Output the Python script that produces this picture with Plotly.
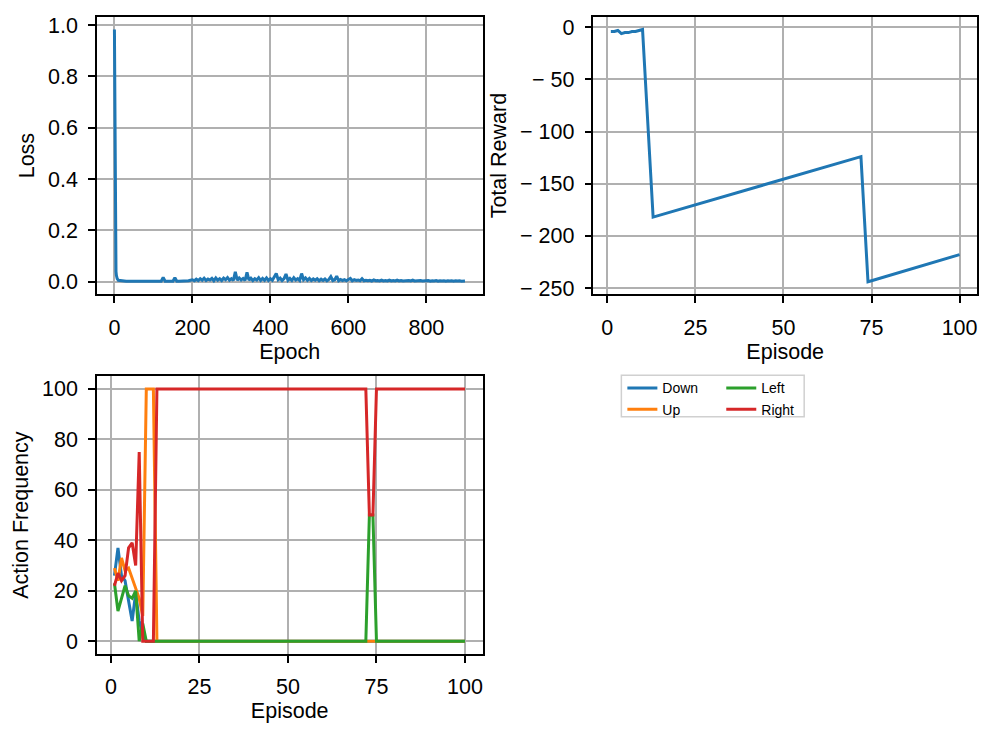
import plotly.graph_objects as go

# ---- training loss (per epoch, dense start then sampled every 5 epochs) ----
loss_epochs_head = [0, 1, 2, 3, 4, 5, 7]
loss_head = [0.983, 0.70, 0.30, 0.10, 0.04, 0.025, 0.012]
loss_tail_start, loss_tail_step = 10, 5
loss_tail = [
    0.006, 0.004, 0.003, 0.003, 0.002, 0.002, 0.002, 0.002,
    0.002, 0.002, 0.001, 0.002, 0.002, 0.001, 0.002, 0.002, 0.002, 0.001,
    0.002, 0.002, 0.002, 0.002, 0.002, 0.017, 0.002, 0.002, 0.002, 0.002,
    0.002, 0.016, 0.002, 0.002, 0.002, 0.002, 0.003, 0.003, 0.004, 0.006,
    0.008, 0.004, 0.010, 0.005, 0.012, 0.006, 0.014, 0.005, 0.011, 0.007,
    0.013, 0.004, 0.015, 0.006, 0.012, 0.005, 0.014, 0.008, 0.016, 0.006,
    0.012, 0.005, 0.039, 0.006, 0.015, 0.007, 0.013, 0.005, 0.037, 0.006,
    0.014, 0.005, 0.012, 0.007, 0.016, 0.005, 0.013, 0.006, 0.015, 0.005,
    0.012, 0.006, 0.017, 0.032, 0.008, 0.014, 0.005, 0.012, 0.030, 0.006,
    0.013, 0.005, 0.016, 0.007, 0.012, 0.005, 0.032, 0.008, 0.015, 0.006,
    0.013, 0.005, 0.011, 0.006, 0.012, 0.004, 0.010, 0.005, 0.011, 0.004,
    0.009, 0.020, 0.005, 0.008, 0.022, 0.004, 0.009, 0.005, 0.008, 0.004,
    0.009, 0.013, 0.004, 0.008, 0.005, 0.007, 0.004, 0.012, 0.004, 0.006,
    0.004, 0.006, 0.003, 0.007, 0.004, 0.005, 0.003, 0.006, 0.003, 0.005,
    0.003, 0.006, 0.003, 0.005, 0.003, 0.006, 0.003, 0.005, 0.003, 0.004,
    0.003, 0.005, 0.003, 0.006, 0.003, 0.004, 0.003, 0.005, 0.003, 0.004,
    0.003, 0.005, 0.002, 0.004, 0.003, 0.005, 0.002, 0.004, 0.003, 0.004,
    0.002, 0.004, 0.003, 0.004, 0.002, 0.004, 0.003, 0.004, 0.002, 0.003,
]
loss_last_epoch, loss_last = 899, 0.003

# ---- per-episode results ----
episodes = [1, 2, 3, 4, 5, 6, 7, 8, 9, 10, 11, 12, 13, 72, 73, 74, 75, 100]
total_reward = [-4, -4, -3, -6, -5, -5, -4, -4, -3, -2, -62, -122, -182,
                -124, -184, -244, -243, -218]
freq_down = [26, 37, 26, 24, 16, 8, 19, 8, 3, 0, 0, 0, 0, 0, 0, 0, 0, 0]
freq_up = [29, 24, 33, 28, 29, 25, 21, 17, 10, 100, 100, 100, 0, 0, 0, 0, 0, 0]
freq_left = [23, 12, 17, 22, 18, 17, 20, 0, 7, 0, 0, 0, 0, 0, 50, 50, 0, 0]
freq_right = [22, 27, 24, 26, 37, 39, 30, 75, 0, 0, 0, 0, 100, 100, 50, 50, 100, 100]

action_names = ["Down", "Up", "Left", "Right"]
action_colors = ["#1f77b4", "#ff7f0e", "#2ca02c", "#d62728"]

loss_epochs = loss_epochs_head + [loss_tail_start + loss_tail_step * i
                                  for i in range(len(loss_tail))] + [loss_last_epoch]
loss_values = loss_head + loss_tail + [loss_last]

W, H = 985, 729
FONT = "Liberation Sans"
FS = 21.5
LW = 3


def px_x(p):
    return p / W


def px_y(p):
    return 1 - p / H


fig = go.Figure()

fig.add_trace(go.Scatter(x=loss_epochs, y=loss_values, mode="lines",
                         line=dict(color="#1f77b4", width=LW),
                         xaxis="x", yaxis="y", showlegend=False))
fig.add_trace(go.Scatter(x=episodes, y=total_reward, mode="lines",
                         line=dict(color="#1f77b4", width=LW),
                         xaxis="x2", yaxis="y2", showlegend=False))

series = [freq_down, freq_up, freq_left, freq_right]
for name, color, vals in zip(action_names, action_colors, series):
    fig.add_trace(go.Scatter(
        x=episodes, y=vals, mode="lines", name=name,
        line=dict(color=color, width=LW),
        xaxis="x3", yaxis="y3",
        legend="legend" if name in ("Down", "Up") else "legend2"))


def axis_style(**kw):
    base = dict(
        showline=True, linecolor="black", linewidth=1.5, mirror=True,
        ticks="outside", ticklen=7, tickwidth=1.5, tickcolor="black",
        showgrid=True, gridcolor="#b0b0b0", gridwidth=1.5,
        zeroline=False,
        tickfont=dict(family=FONT, size=FS, color="black"),
        title_font=dict(family=FONT, size=FS, color="black"),
        ticklabelstandoff=6,
    )
    base.update(kw)
    return base


top = [px_y(295), px_y(14)]
bottom = [px_y(659), px_y(378)]
left = [px_x(97), px_x(483)]
right = [px_x(594), px_x(978)]

ep_range = [-3.95, 104.95]

reward_ticks = [0, -50, -100, -150, -200, -250]
reward_labels = ["0"] + ["\u2212 " + str(-v) for v in reward_ticks[1:]]

legend_font = dict(family=FONT, size=14, color="black")

fig.update_layout(
    width=W, height=H,
    margin=dict(l=0, r=0, t=0, b=0),
    paper_bgcolor="white", plot_bgcolor="white",
    font=dict(family=FONT, color="black"),
    xaxis=axis_style(domain=left, anchor="y", range=[-44.95, 943.95],
                     tickvals=[0, 200, 400, 600, 800],
                     title=dict(text="Epoch", standoff=5)),
    yaxis=axis_style(domain=top, anchor="x", range=[-0.049, 1.032],
                     tickvals=[0, 0.2, 0.4, 0.6, 0.8, 1.0], tickformat=".1f",
                     title=dict(text="Loss", standoff=7)),
    xaxis2=axis_style(domain=right, anchor="y2", range=ep_range,
                      tickvals=[0, 25, 50, 75, 100],
                      title=dict(text="Episode", standoff=5)),
    yaxis2=axis_style(domain=top, anchor="x2", range=[-256.1, 10.1],
                      tickvals=reward_ticks, ticktext=reward_labels,
                      title=dict(text="Total Reward", standoff=7)),
    xaxis3=axis_style(domain=left, anchor="y3", range=ep_range,
                      tickvals=[0, 25, 50, 75, 100],
                      title=dict(text="Episode", standoff=5)),
    yaxis3=axis_style(domain=bottom, anchor="x3", range=[-5, 105],
                      tickvals=[0, 20, 40, 60, 80, 100],
                      title=dict(text="Action Frequency", standoff=7)),
    legend=dict(x=px_x(623), y=px_y(374), xanchor="left", yanchor="top",
                bgcolor="rgba(0,0,0,0)", borderwidth=0, font=legend_font,
                tracegroupgap=0, itemwidth=30),
    legend2=dict(x=px_x(722), y=px_y(374), xanchor="left", yanchor="top",
                 bgcolor="rgba(0,0,0,0)", borderwidth=0, font=legend_font,
                 tracegroupgap=0, itemwidth=30),
)

# shared frame around both legend columns
fig.add_shape(type="rect", xref="paper", yref="paper",
              x0=px_x(622), x1=px_x(805), y0=px_y(419), y1=px_y(377),
              line=dict(color="#d0d0d0", width=1.5), fillcolor="rgba(0,0,0,0)",
              layer="below")

fig.write_html("out.html")
